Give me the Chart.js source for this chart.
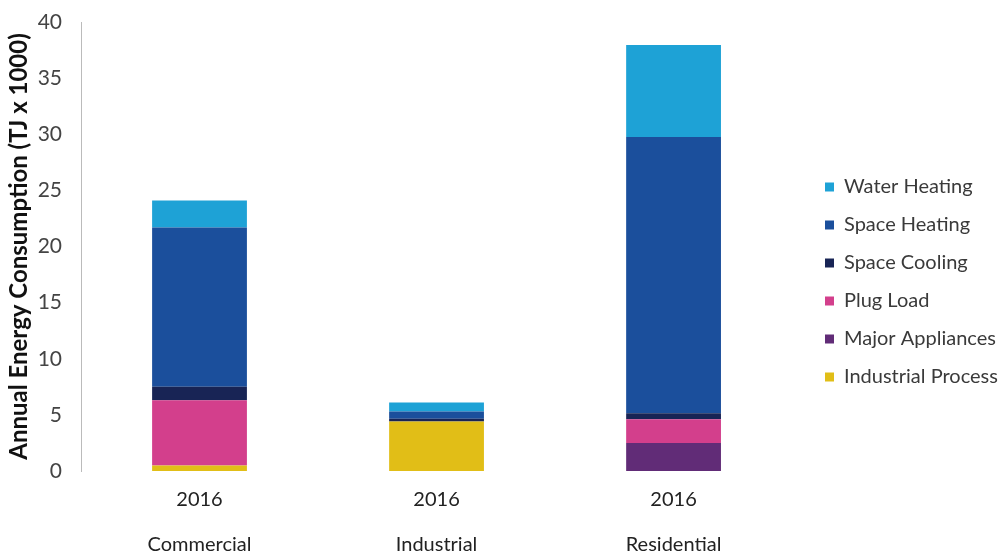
<!DOCTYPE html>
<html>
<head>
<meta charset="utf-8">
<script src="https://cdn.jsdelivr.net/npm/chart.js@4/dist/chart.umd.min.js"></script>
<style>
  html, body { margin: 0; padding: 0; background: #fff; }
  #wrap { width: 1003px; height: 552px; }
</style>
</head>
<body>
<div id="wrap"><canvas id="chart"></canvas></div>
<script>
// sectors, each shown with its year label
const years = ['2016', '2016', '2016'];
const sectors = ['Commercial', 'Industrial', 'Residential'];

// stacked values (TJ x 1000), bottom to top
const industrialProcess = [0.5, 4.4, 0];
const majorAppliances   = [0, 0, 2.5];
const plugLoad          = [5.8, 0, 2.1];
const spaceCooling      = [1.2, 0.25, 0.55];
const spaceHeating      = [14.2, 0.65, 24.6];
const waterHeating      = [2.4, 0.8, 8.2];

const yTicks = [0, 5, 10, 15, 20, 25, 30, 35, 40];

const labels = years.map((y, i) => [y, sectors[i]]);

const mk = (label, data, color) => ({
    label: label,
    data: data,
    backgroundColor: color,
    borderWidth: 0,
    barPercentage: 0.4,
    categoryPercentage: 1.0
});

const data = {
    labels: labels,
    datasets: [
        mk('Industrial Process', industrialProcess, '#e1be17'),
        mk('Major Appliances', majorAppliances, '#612c77'),
        mk('Plug Load', plugLoad, '#d33f8c'),
        mk('Space Cooling', spaceCooling, '#182455'),
        mk('Space Heating', spaceHeating, '#1b4f9c'),
        mk('Water Heating', waterHeating, '#1ea2d6')
    ]
};

// move the legend block a bit: leaves a gap between plot and legend
const legendShift = {
    id: 'legendShift',
    afterLayout(chart) {
        const lg = chart.legend;
        const dx = 807 - lg.left;
        lg.left += dx; lg.right += dx;
        lg.top -= 5; lg.bottom -= 5;
    }
};

const options = {
    responsive: true,
    maintainAspectRatio: false,
    animation: false,
    layout: { padding: { top: 22, right: 10, left: 5, bottom: 0 } },
    plugins: {
        legend: {
            position: 'right',
            reverse: true,
            labels: {
                boxWidth: 9,
                boxHeight: 9,
                padding: 18,
                color: '#3a3a3a',
                font: { family: 'Lato', size: 20 }
            }
        },
        tooltip: { enabled: false }
    },
    scales: {
        x: {
            stacked: true,
            grid: { display: false, drawTicks: false },
            border: { display: false },
            afterFit: (s) => { s.height = 81; },
            ticks: {
                color: '#222',
                padding: 6,
                font: { family: 'Lato', size: 20, lineHeight: 2.25 }
            }
        },
        y: {
            stacked: true,
            min: 0,
            max: 40,
            afterBuildTicks: (axis) => { axis.ticks = yTicks.map(v => ({ value: v })); },
            afterFit: (s) => { s.width = 76; s.paddingTop = 0; s.paddingBottom = 0; },
            grid: { display: false, drawTicks: false },
            border: { display: true, color: '#bbb', width: 1 },
            ticks: {
                color: '#444',
                padding: 19,
                font: { family: 'Lato', size: 21 }
            },
            title: {
                display: true,
                text: 'Annual Energy Consumption (TJ x 1000)',
                color: '#111',
                padding: 0,
                font: { family: 'Lato', size: 24, weight: 'bold' }
            }
        }
    }
};

const ctx = document.getElementById('chart').getContext('2d');
const myChart = new Chart(ctx, {
    type: 'bar',
    data: data,
    options: options,
    plugins: [legendShift]
});
</script>
</body>
</html>
